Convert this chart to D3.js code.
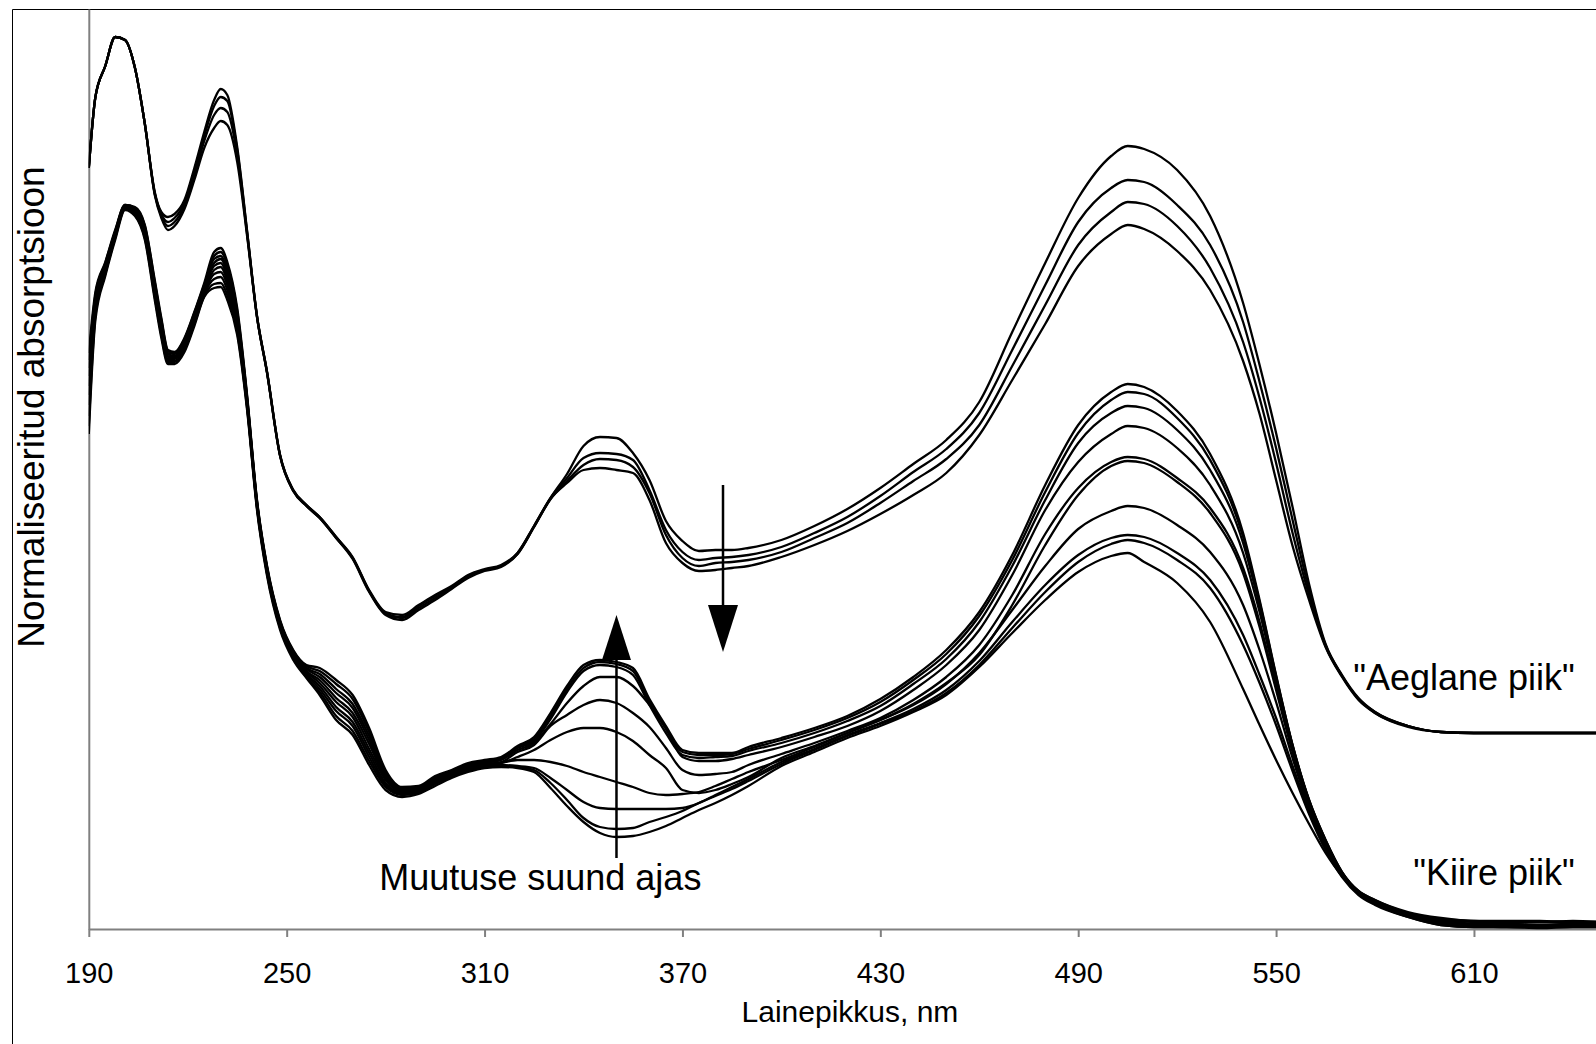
<!DOCTYPE html>
<html>
<head>
<meta charset="utf-8">
<script src="https://cdn.jsdelivr.net/npm/d3@7"></script>
<style>
  html, body { margin: 0; padding: 0; background: #ffffff; }
  svg { display: block; font-family: "Liberation Sans", Arial, sans-serif; }
</style>
</head>
<body>
<svg id="chart" width="1596" height="1044"></svg>
<script>
// Wavelength grid (nm) shared by every spectrum
const wavelengths = [
  190,192,195,198,201,204,207,210,212,214,216,219,222,225,228,230,232,235,
  238,241,244,248,252,256,260,265,270,275,280,285,290,295,300,305,310,
  315,320,325,330,335,340,345,350,355,360,365,370,375,380,385,390,
  400,410,420,430,440,450,460,470,480,490,500,505,
  510,520,530,540,545,550,555,560,565,570,575,580,590,600,610,620,630,640,650
];

const tickLabels = [190, 250, 310, 370, 430, 490, 550, 610];

// "Aeglane piik" — slow peak, normalised absorption (a.u. x1000), four spectra in time order
const slow1 = [761,832,863,892,889,861,805,737,717,712,715,729,761,797,829,840,834,782,
  698,613,558,474,439,424,412,392,372,339,317,314,324,334,343,354,360,
  364,376,403,431,455,483,492,491,476,449,408,388,378,379,379,381,
  389,403,420,441,465,489,527,597,666,731,773,783,
  780,759,713,626,564,496,422,345,285,254,231,217,203,197,196,196,196,196,196];
const slow2 = [761,832,863,892,889,861,805,736,715,707,711,726,757,793,823,832,828,779,
  697,613,558,474,439,424,412,392,371,338,316,312,323,333,342,353,359,
  363,376,403,431,451,471,476,475,469,439,399,377,369,371,372,374,
  382,396,412,433,457,480,516,579,644,707,741,749,
  747,724,684,607,547,481,409,339,284,253,230,217,203,197,196,196,196,196,196];
const slow3 = [761,832,863,892,889,861,805,735,713,703,707,723,753,788,814,821,817,774,
  695,612,557,473,438,423,411,391,371,338,315,311,321,331,341,352,359,
  363,375,402,430,448,464,470,469,462,436,394,371,363,366,367,369,
  377,391,406,426,448,470,504,563,624,684,717,727,
  725,703,661,587,531,466,396,334,283,253,230,216,203,197,196,196,196,196,196];
const slow4 = [761,832,863,892,889,861,805,734,711,699,703,720,749,781,801,808,804,767,
  693,612,557,473,438,423,411,391,370,337,314,309,319,329,340,351,358,
  362,375,402,430,446,459,461,459,456,429,386,366,358,359,361,363,
  372,384,398,415,434,456,494,549,605,663,695,704,
  700,678,639,568,515,449,383,329,282,252,229,216,202,197,196,196,196,196,196];

// "Kiire piik" — fast peak, ten spectra in time order
const fast1 = [576,637,667,699,724,722,704,649,611,579,577,591,617,646,677,681,667,621,
  534,429,364,309,279,264,261,249,234,201,159,142,143,153,159,166,169,
  172,183,192,216,243,264,269,267,261,230,203,179,176,176,176,182,
  191,201,213,230,252,279,317,374,444,504,537,545,
  542,518,475,396,329,254,184,129,89,57,38,29,17,11,8,8,8,7,7];
const fast2 = [569,634,666,698,724,721,703,647,609,578,576,590,616,644,673,677,664,618,
  532,428,363,308,278,263,258,245,230,197,157,141,142,152,158,165,168,
  171,182,190,213,240,261,267,265,258,227,200,177,174,174,175,180,
  189,199,211,227,249,275,313,369,437,496,529,537,
  535,511,469,392,327,253,184,129,89,57,38,29,16,10,8,7,7,8,7];
const fast3 = [561,631,664,697,723,720,701,645,607,576,575,588,614,642,670,673,660,615,
  531,427,362,307,277,261,255,240,225,193,155,140,141,151,157,164,167,
  170,181,188,210,237,258,264,262,254,224,196,174,171,172,173,178,
  186,196,208,223,245,270,307,363,429,486,516,523,
  521,499,459,386,323,251,183,128,88,56,37,28,16,9,7,6,7,6,6];
const fast4 = [553,628,663,696,723,719,699,643,605,575,573,587,613,640,666,670,656,612,
  529,426,361,306,276,260,252,236,221,189,153,139,140,150,156,163,166,
  169,179,186,205,226,243,252,252,243,224,201,172,168,168,170,174,
  182,192,203,218,239,264,299,354,419,467,495,503,
  501,481,444,376,317,248,181,127,87,56,37,27,15,8,5,5,4,5,4];
const fast5 = [543,625,661,695,722,718,698,641,603,573,572,585,611,639,663,666,652,609,
  528,425,360,305,275,258,249,231,216,185,151,138,139,149,155,162,165,
  167,177,184,203,214,224,229,226,216,202,181,159,154,155,157,164,
  175,186,198,211,229,252,284,334,395,441,467,472,
  470,451,421,361,307,242,179,125,86,55,36,26,14,7,4,3,4,3,3];
const fast6 = [534,622,660,694,722,717,696,639,601,572,571,584,610,637,659,662,648,606,
  526,424,359,304,274,257,246,227,212,180,149,137,139,148,155,161,164,
  166,172,179,189,197,201,201,197,188,174,161,139,136,139,145,152,
  171,183,196,209,225,246,274,324,384,434,463,468,
  466,447,416,356,302,239,177,124,85,55,36,26,13,6,3,3,2,3,2];
const fast7 = [524,619,658,693,721,716,694,637,599,570,570,582,608,636,655,657,644,603,
  524,423,358,303,273,255,243,222,207,176,146,136,138,147,154,160,164,
  166,169,169,167,163,157,152,147,142,136,134,135,137,143,150,157,
  169,182,196,209,224,245,276,319,363,400,418,423,
  421,404,377,324,279,227,171,121,83,54,35,25,13,5,3,2,2,2,2];
const fast8 = [513,616,657,692,721,715,693,634,596,568,568,580,606,635,650,652,639,600,
  523,422,357,302,272,254,240,218,203,172,144,135,137,146,153,159,163,
  164,163,161,151,139,127,121,120,120,120,120,121,126,134,142,150,
  167,180,194,206,220,239,268,307,344,374,391,394,
  392,376,349,294,254,211,163,118,81,53,35,25,12,4,2,2,2,3,2];
const fast9 = [503,613,655,691,720,714,691,632,594,567,567,579,605,633,645,646,634,597,
  521,421,356,301,271,252,237,213,198,168,142,134,136,145,152,158,162,
  163,162,159,146,129,111,102,100,101,107,112,118,126,133,140,148,
  165,179,193,205,218,236,264,301,337,367,385,389,
  386,369,341,284,246,204,158,115,79,52,34,24,12,4,2,2,1,2,2];
const fast10 = [495,609,653,689,719,713,689,629,591,565,565,577,603,632,641,642,629,594,
  519,419,354,299,269,251,234,209,194,164,139,132,135,143,151,157,161,
  162,161,157,141,123,107,96,92,93,97,103,111,119,126,134,143,
  163,177,191,203,217,234,262,296,329,357,373,376,
  367,346,307,240,204,169,136,105,76,53,37,26,13,8,5,4,3,4,3];

const slowSpectra = [slow1, slow2, slow3, slow4];
const fastSpectra = [fast1, fast2, fast3, fast4, fast5, fast6, fast7, fast8, fast9, fast10];

// ---- layout ----
const W = 1596, H = 1044;
const plotLeft = 88.8, plotTop = 9, plotBottom = 929;
const pxPerNm = 3.298;
const svg = d3.select("#chart");

svg.append("rect").attr("width", W).attr("height", H).attr("fill", "#ffffff");

const x = d3.scaleLinear()
  .domain([190, 670])
  .range([plotLeft, plotLeft + 480 * pxPerNm]);
const y = d3.scaleLinear()
  .domain([0, 920])
  .range([plotBottom, plotTop]);

// chart-area frame (right and bottom edges lie outside the view)
svg.append("line").attr("x1", 12.5).attr("x2", W).attr("y1", 9.5).attr("y2", 9.5)
  .attr("stroke", "#000").attr("stroke-width", 1);
svg.append("line").attr("x1", 12.5).attr("x2", 12.5).attr("y1", 9.5).attr("y2", H)
  .attr("stroke", "#000").attr("stroke-width", 1);

// clip for the plot area
svg.append("clipPath").attr("id", "plotClip")
  .append("rect").attr("x", plotLeft).attr("y", plotTop - 2)
  .attr("width", W - plotLeft).attr("height", plotBottom - plotTop + 4);

// axes
const xAxis = d3.axisBottom(x)
  .tickValues(tickLabels)
  .tickFormat(d3.format("d"))
  .tickSize(8)
  .tickSizeOuter(0)
  .tickPadding(25);
const gx = svg.append("g").attr("transform", `translate(0,${plotBottom})`).call(xAxis);
gx.select(".domain").attr("stroke", "#808080").attr("stroke-width", 2);
gx.selectAll(".tick line").attr("stroke", "#808080").attr("stroke-width", 2);
gx.selectAll(".tick text").attr("fill", "#000").attr("font-size", 29)
  .attr("font-family", "'Liberation Sans', Arial, sans-serif");

const yAxis = d3.axisLeft(y).tickValues([]).tickSizeOuter(0);
const gy = svg.append("g").attr("transform", `translate(${plotLeft},0)`).call(yAxis);
gy.select(".domain").attr("stroke", "#808080").attr("stroke-width", 2);

// spectra
const line = d3.line()
  .x((d, i) => x(wavelengths[i]))
  .y(d => y(d))
  .curve(d3.curveMonotoneX);

const plot = svg.append("g").attr("clip-path", "url(#plotClip)");
plot.selectAll("path.fast")
  .data(fastSpectra)
  .join("path")
  .attr("class", "fast")
  .attr("d", line)
  .attr("fill", "none")
  .attr("stroke", "#000")
  .attr("stroke-width", 2.3)
  .attr("stroke-linejoin", "round");
plot.selectAll("path.slow")
  .data(slowSpectra)
  .join("path")
  .attr("class", "slow")
  .attr("d", line)
  .attr("fill", "none")
  .attr("stroke", "#000")
  .attr("stroke-width", 2.3)
  .attr("stroke-linejoin", "round");

// direction-of-change arrows: wavelength, tail value, tip value, head size in px
const arrows = [
  { nm: 350, from: 71, to: 314, headLen: 45, headW: 29 },
  { nm: 382.3, from: 444, to: 277, headLen: 47, headW: 30 }
];
arrows.forEach(a => {
  const ax = x(a.nm), y0 = y(a.from), y1 = y(a.to);
  const dir = y1 < y0 ? 1 : -1; // 1 = pointing up
  const baseY = y1 + dir * a.headLen;
  svg.append("line")
    .attr("x1", ax).attr("x2", ax).attr("y1", y0).attr("y2", baseY)
    .attr("stroke", "#000").attr("stroke-width", 2.5);
  svg.append("path")
    .attr("d", `M${ax},${y1} L${ax - a.headW / 2},${baseY} L${ax + a.headW / 2},${baseY} Z`)
    .attr("fill", "#000");
});

// text labels
const labelFont = "'Liberation Sans', Arial, sans-serif";
svg.append("text")
  .attr("x", x(326.9)).attr("y", y(39))
  .attr("text-anchor", "middle").attr("font-size", 36).attr("font-family", labelFont)
  .text("Muutuse suund ajas");
svg.append("text")
  .attr("x", x(640.6)).attr("y", y(239))
  .attr("text-anchor", "end").attr("font-size", 36).attr("font-family", labelFont)
  .text('"Aeglane piik"');
svg.append("text")
  .attr("x", x(640.6)).attr("y", y(44))
  .attr("text-anchor", "end").attr("font-size", 36).attr("font-family", labelFont)
  .text('"Kiire piik"');

// axis titles
svg.append("text")
  .attr("x", x(420.8)).attr("y", 1022)
  .attr("text-anchor", "middle").attr("font-size", 30).attr("font-family", labelFont)
  .text("Lainepikkus, nm");
svg.append("text")
  .attr("transform", "translate(44,407) rotate(-90)")
  .attr("text-anchor", "middle").attr("font-size", 37).attr("font-family", labelFont)
  .text("Normaliseeritud absorptsioon");
</script>
</body>
</html>
